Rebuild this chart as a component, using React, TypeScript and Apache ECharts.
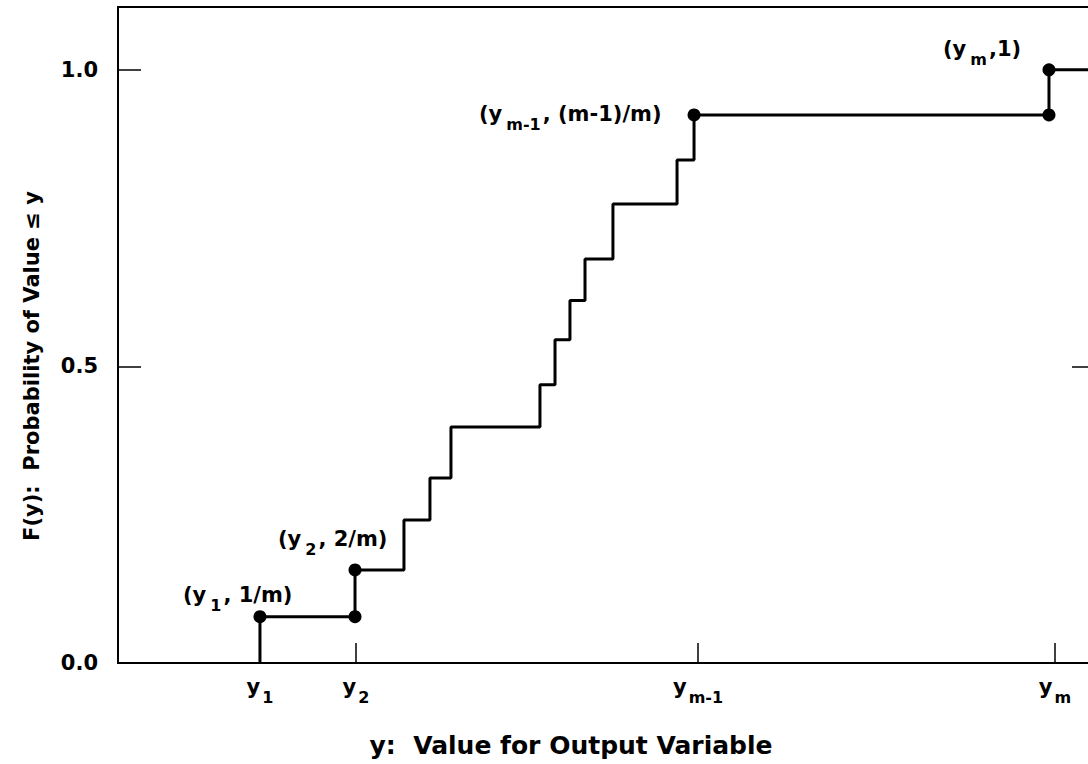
import React, { useEffect, useRef } from 'react';
import * as echarts from 'echarts';

// Step positions (x, arbitrary units 0..100) and cumulative probabilities F(y)
const stepX = [14.53, 24.26, 29.27, 31.93, 34.08, 43.19, 44.73, 46.26, 47.8, 50.66, 57.22, 58.96, 95.29];
const stepF = [0.078, 0.157, 0.241, 0.312, 0.398, 0.469, 0.545, 0.611, 0.681, 0.774, 0.848, 0.924, 1.0];

// x-axis tick positions and subscripts of the labels y_i
const xTickValues = [14.53, 24.36, 59.37, 95.9];
const xTickSubs = ['1', '2', 'm-1', 'm'];

// y-axis ticks
const yTickValues = [0, 0.5, 1.0];
const yTickLabels = ['0.0', '0.5', '1.0'];

// indices of the marked points: [xIndex, fIndex]
const dotPairs = [
  [0, 0],
  [1, 0],
  [1, 1],
  [11, 11],
  [12, 11],
  [12, 12],
];

const FONT = 'DejaVu Sans';

const richStyles = {
  m: { fontFamily: FONT, fontSize: 21, fontWeight: 'bold', color: '#000', fill: '#000', lineHeight: 24 },
  s: {
    fontFamily: FONT,
    fontSize: 16,
    fontWeight: 'bold',
    color: '#000',
    fill: '#000',
    lineHeight: 18,
    padding: [20, 0, 0, 2],
  },
  sg: {
    fontFamily: FONT,
    fontSize: 16,
    fontWeight: 'bold',
    color: '#000',
    fill: '#000',
    lineHeight: 18,
    padding: [20, 2, 0, 4],
  },
};

export default function App() {
  const ref = useRef<HTMLDivElement>(null);

  useEffect(() => {
    document.documentElement.style.overflow = 'hidden';
    document.body.style.margin = '0';
    document.body.style.overflow = 'hidden';
    if (!ref.current) return;
    const chart = echarts.init(ref.current, null, { renderer: 'svg' });

    const lineData: number[][] = [[stepX[0], 0]];
    stepX.forEach((x, i) => lineData.push([x, stepF[i]]));
    lineData.push([100, stepF[stepF.length - 1]]);

    const dots = dotPairs.map(([xi, fi]) => [stepX[xi], stepF[fi]]);

    const option: any = {
      animation: false,
      backgroundColor: '#fff',
      grid: {
        left: 118,
        right: 5,
        top: 7,
        bottom: 101,
        show: true,
        borderColor: '#000',
        borderWidth: 2,
        containLabel: false,
      },
      xAxis: {
        type: 'value',
        min: 0,
        max: 100,
        axisLine: { show: true, lineStyle: { color: '#000', width: 2 } },
        axisTick: {
          show: true,
          inside: true,
          length: 20,
          customValues: xTickValues,
          lineStyle: { color: '#000', width: 1.5 },
        },
        splitLine: { show: false },
        axisLabel: {
          customValues: xTickValues,
          margin: 12,
          formatter: (v: number) => {
            const i = xTickValues.findIndex((t) => Math.abs(t - v) < 1e-6);
            return i >= 0 ? `{m|y}{s|${xTickSubs[i]}}` : '';
          },
          rich: richStyles,
        },
      },
      yAxis: [
        {
          type: 'value',
          min: 0,
          max: 1.106,
          position: 'left',
          axisLine: { show: true, lineStyle: { color: '#000', width: 2 } },
          axisTick: {
            show: true,
            inside: true,
            length: 23,
            customValues: yTickValues,
            lineStyle: { color: '#000', width: 1.5 },
          },
          splitLine: { show: false },
          axisLabel: {
            customValues: yTickValues,
            margin: 20,
            fontFamily: FONT,
            fontSize: 21,
            fontWeight: 'bold',
            color: '#000',
            formatter: (v: number) => {
              const i = yTickValues.findIndex((t) => Math.abs(t - v) < 1e-6);
              return i >= 0 ? yTickLabels[i] : '';
            },
          },
        },
        {
          type: 'value',
          min: 0,
          max: 1.106,
          position: 'right',
          axisLine: { show: true, lineStyle: { color: '#000', width: 2 } },
          axisTick: {
            show: true,
            inside: true,
            length: 23,
            customValues: yTickValues,
            lineStyle: { color: '#000', width: 1.5 },
          },
          splitLine: { show: false },
          axisLabel: { show: false },
        },
      ],
      series: [
        {
          type: 'line',
          step: 'end',
          data: lineData,
          showSymbol: false,
          symbol: 'none',
          lineStyle: { color: '#000', width: 3 },
          z: 3,
        },
        {
          type: 'scatter',
          data: dots,
          symbol: 'circle',
          symbolSize: 13,
          itemStyle: { color: '#000', opacity: 1 },
          z: 4,
        },
      ],
      graphic: [
        {
          type: 'text',
          x: 571,
          y: 745,
          style: {
            text: 'y:  Value for Output Variable',
            fontFamily: FONT,
            fontSize: 25,
            fontWeight: 'bold',
            fill: '#000',
            align: 'center',
            verticalAlign: 'middle',
          },
        },
        {
          type: 'text',
          x: 32,
          y: 366,
          rotation: Math.PI / 2,
          style: {
            text: 'F(y):  Probability of Value \u2264 y',
            fontFamily: FONT,
            fontSize: 21,
            fontWeight: 'bold',
            fill: '#000',
            align: 'center',
            verticalAlign: 'middle',
          },
        },
        {
          type: 'text',
          x: 183,
          y: 595,
          style: {
            text: '{m|(y}{sg|1}{m|, 1/m)}',
            rich: richStyles,
            align: 'left',
            verticalAlign: 'middle',
          },
        },
        {
          type: 'text',
          x: 278,
          y: 539,
          style: {
            text: '{m|(y}{sg|2}{m|, 2/m)}',
            rich: richStyles,
            align: 'left',
            verticalAlign: 'middle',
          },
        },
        {
          type: 'text',
          x: 479,
          y: 114,
          style: {
            text: '{m|(y}{sg|m-1}{m|, (m-1)/m)}',
            rich: richStyles,
            align: 'left',
            verticalAlign: 'middle',
          },
        },
        {
          type: 'text',
          x: 943,
          y: 49,
          style: {
            text: '{m|(y}{sg|m}{m|,1)}',
            rich: richStyles,
            align: 'left',
            verticalAlign: 'middle',
          },
        },
      ],
    };

    chart.setOption(option);
    return () => chart.dispose();
  }, []);

  return <div ref={ref} style={{ width: 1100, height: 764 }} />;
}
